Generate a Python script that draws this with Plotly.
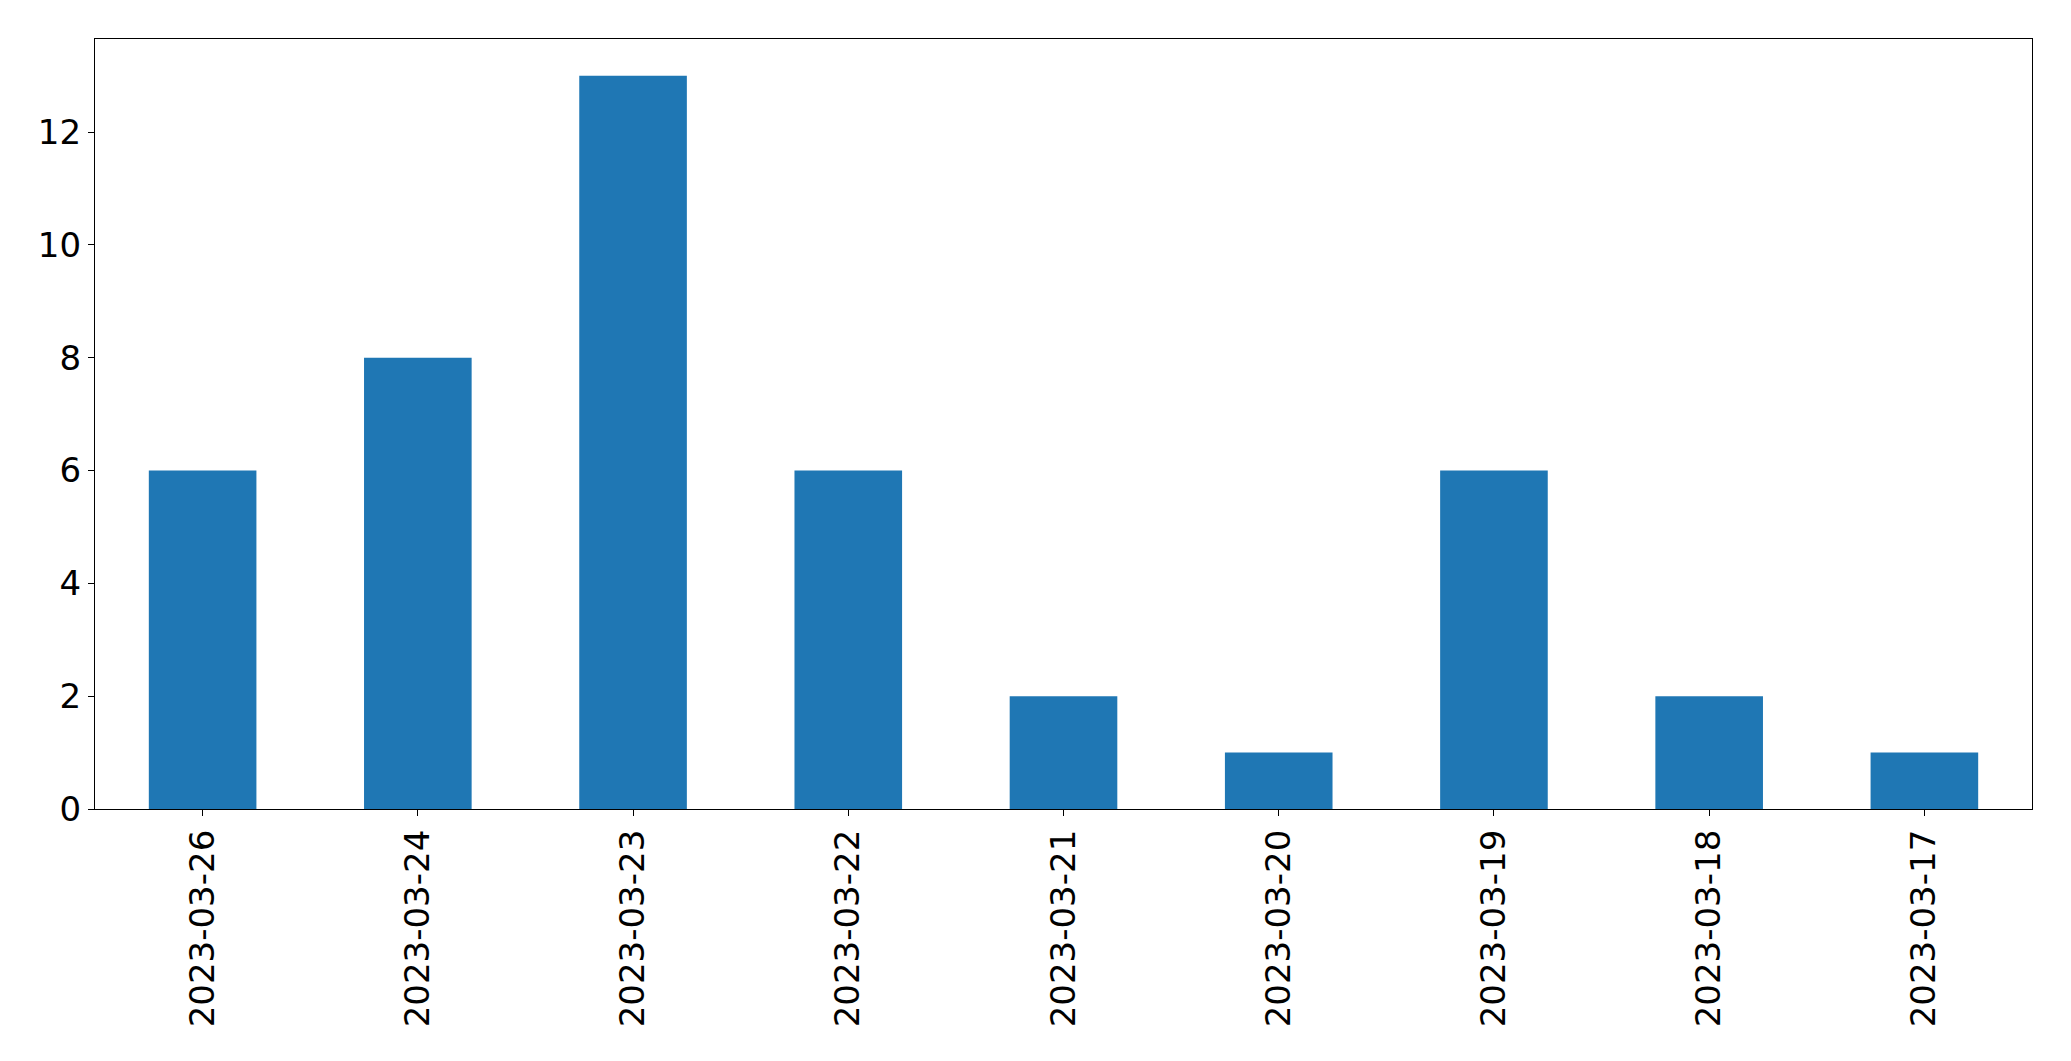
import plotly.graph_objects as go

dates = ["2023-03-26", "2023-03-24", "2023-03-23", "2023-03-22", "2023-03-21",
         "2023-03-20", "2023-03-19", "2023-03-18", "2023-03-17"]
counts = [6, 8, 13, 6, 2, 1, 6, 2, 1]
y_ticks = [0, 2, 4, 6, 8, 10, 12]

fig = go.Figure(go.Bar(x=dates, y=counts, marker=dict(color="#1f77b4", line=dict(width=0)), width=0.5))

fig.update_layout(
    width=2055, height=1045,
    margin=dict(l=87, r=31, t=31, b=244),
    plot_bgcolor="white", paper_bgcolor="white",
    font=dict(family="DejaVu Sans", size=34, color="black"),
    showlegend=False,
)
fig.update_xaxes(
    type="category", range=[-0.5, len(dates) - 0.5],
    tickangle=-90, showline=True, mirror=True, linecolor="black", linewidth=1.3,
    ticks="outside", ticklen=6, tickwidth=1.3, tickcolor="black", showgrid=False,
)
fig.update_yaxes(
    range=[0, 13.65], tickvals=y_ticks,
    showline=True, mirror=True, linecolor="black", linewidth=1.3,
    ticks="outside", ticklen=6, tickwidth=1.3, tickcolor="black", showgrid=False, zeroline=False,
)
fig.write_html("out.html")
